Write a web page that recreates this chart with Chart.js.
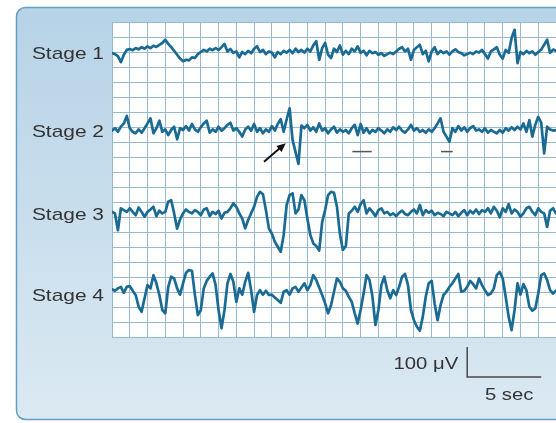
<!DOCTYPE html>
<html>
<head>
<meta charset="utf-8">
<title>EEG sleep stages</title>
<script src="https://cdn.jsdelivr.net/npm/chart.js@4.4.1/dist/chart.umd.min.js"></script>
<style>
  html, body { margin: 0; padding: 0; background: #fff; }
  #eegChart { display: block; }
</style>
</head>
<body>
<canvas id="eegChart" width="556" height="423"></canvas>
<script>
// traces, one sample every 0.2 s, in µV around each trace's own baseline
const sampleSec = 0.2;
const stageLabels = ['Stage 1', 'Stage 2', 'Stage 3', 'Stage 4'];

const stage1 = [
  -4,-7,-14,-34,-9,7,10,6,13,9,
  16,11,19,13,21,17,24,30,41,27,
  16,4,-9,-22,-31,-26,-28,-18,-20,-7,
  0,7,2,11,6,13,7,16,27,2,
  10,-3,2,-18,0,-7,4,-4,11,19,
  0,7,-7,2,-2,-18,0,-7,4,-2,
  7,-4,11,0,7,-2,11,2,22,36,
  -26,13,30,-9,-20,11,0,22,-9,4,
  -7,11,2,19,-3,4,-11,4,-4,0,
  -9,-4,-13,-7,-2,-7,2,11,16,2,
  11,-26,7,16,24,-7,4,-31,2,16,
  -7,4,-4,2,-9,2,9,0,-4,-11,
  -7,-2,-7,2,-2,7,-7,-22,2,9,
  16,-9,-22,7,-3,47,74,-37,0,-7,
  4,-4,2,-9,0,8,24,41,-3,8,4
];

const stage2 = [
  -2,6,-6,11,22,47,6,-6,-11,2,
  -9,6,22,39,-11,6,31,-6,2,-17,
  0,11,-31,6,0,13,-2,20,2,-6,
  9,22,31,-9,2,-6,11,-2,6,17,
  24,-2,6,-6,-22,2,11,-2,20,-6,
  6,-11,2,-6,13,-2,20,36,-6,35,
  72,-33,-73,-113,15,6,17,-2,9,-6,
  22,-2,6,-11,2,11,-9,2,-6,0,
  -11,6,17,-17,20,-9,6,-11,0,-6,
  6,-2,-11,2,-6,9,0,11,-2,-9,
  2,17,-2,6,-6,0,-9,2,-6,6,
  22,39,-6,-22,-39,6,-6,13,-2,9,
  -6,6,13,-2,2,-6,6,-9,0,-6,
  -11,0,-9,6,-2,9,0,11,2,22,
  -6,33,-22,17,44,25,-78,11,2,-2,0
];

const stage3 = [
  4,-1,-57,16,10,4,16,4,-7,19,
  4,-12,4,12,21,-10,8,-1,4,38,
  43,-1,-52,-21,-1,12,4,-1,10,4,
  -7,12,16,-10,4,-3,8,-18,1,4,
  16,32,21,-1,-18,-51,-23,-1,21,54,
  71,63,10,-51,-68,-95,-112,-129,-73,27,
  60,66,-1,12,60,43,-18,-73,-101,-110,
  -125,-30,10,60,71,68,21,-70,-123,-110,
  -1,8,21,4,30,43,-1,16,4,-10,
  10,16,-1,4,-7,-1,-10,1,8,-3,
  -7,4,12,-1,27,-7,10,1,8,-7,
  1,-3,-10,4,-1,-7,4,-10,1,10,
  -7,8,-1,12,-3,10,4,16,-1,21,
  8,-14,16,4,30,-1,12,4,-12,-1,
  16,21,4,-7,16,4,-1,-46,8,16,-1
];

const stage4 = [
  16,11,19,24,4,24,27,11,-3,-42,
  -59,-14,30,19,63,36,-3,-53,-64,24,
  58,52,19,-2,36,71,80,78,-2,-70,
  -53,19,44,58,69,30,-53,-114,-53,36,
  67,41,-26,19,-2,41,71,13,-59,-3,
  13,-2,11,-3,-2,-11,-20,-29,8,13,
  -2,19,24,8,22,36,13,30,63,47,
  22,-3,-31,-64,-37,8,52,41,19,11,
  -9,-26,-64,-98,-53,2,63,47,-9,-103,
  -53,30,58,13,-14,13,-3,24,58,67,
  30,-53,-87,-109,-122,-75,-9,36,44,-31,
  -87,-37,-3,8,24,36,52,67,8,11,
  24,44,33,19,52,30,13,-3,2,19,
  63,74,52,-9,-75,-120,-53,36,-2,33,
  13,-42,-55,-48,2,63,69,47,13,2,11
];

const traces = [stage1, stage2, stage3, stage4];

// where each trace sits on the µV axis (0..1050, 50 µV per grid row)
const baselines = [950, 690, 413, 143];

// marks on the Stage 2 trace (sec, µV relative to its baseline)
const arrowFrom = [10.27, -106];
const arrowTo = [11.74, -44];
const dashMarks = [[16.24, 17.55], [22.23, 23.02]];
const dashLevel = -72;

// calibration bar
const barSec = 5;
const barMicroV = 100;
const barStartSec = 24;
const barBottom = -133;
const barLabels = ['100 μV', '5 sec'];

const traceColor = '#1a6b94';
const gridColor = '#98b9cf';
const textColor = '#333';
const textStretch = 1.23;

function stretchedText(ctx, text, x, y, align) {
  ctx.save();
  ctx.translate(x, y);
  ctx.scale(textStretch, 1);
  ctx.textAlign = align;
  ctx.fillText(text, 0, 0);
  ctx.restore();
}

const panelPlugin = {
  id: 'panel',
  beforeDraw(chart) {
    const {ctx, chartArea: a, width, height} = chart;
    ctx.save();
    ctx.fillStyle = '#fff';
    ctx.fillRect(0, 0, width, height);
    const g = ctx.createLinearGradient(0, 7, 0, 420);
    g.addColorStop(0, '#b6d3e7');
    g.addColorStop(1, '#dbe9f2');
    ctx.beginPath();
    ctx.roundRect(16.5, 7.5, width + 30, 412, 9);
    ctx.fillStyle = g;
    ctx.fill();
    ctx.lineWidth = 1.5;
    ctx.strokeStyle = '#639fc4';
    ctx.stroke();
    ctx.fillStyle = '#fff';
    ctx.fillRect(a.left, a.top, a.right - a.left, a.bottom - a.top);
    ctx.restore();
  },
  afterDraw(chart) {
    const {ctx} = chart;
    const x = chart.scales.x, y = chart.scales.y;
    ctx.save();

    // stage names
    ctx.fillStyle = textColor;
    ctx.font = '17px "Liberation Sans", Arial, sans-serif';
    ctx.textBaseline = 'alphabetic';
    stageLabels.forEach((lab, i) => {
      stretchedText(ctx, lab, x.left - 8, y.getPixelForValue(baselines[i]) + 7, 'right');
    });

    // arrow pointing at the K complex
    const b2 = baselines[1];
    const x0 = x.getPixelForValue(arrowFrom[0]), y0 = y.getPixelForValue(b2 + arrowFrom[1]);
    const x1 = x.getPixelForValue(arrowTo[0]), y1 = y.getPixelForValue(b2 + arrowTo[1]);
    const ang = Math.atan2(y1 - y0, x1 - x0);
    ctx.strokeStyle = '#111';
    ctx.fillStyle = '#111';
    ctx.lineWidth = 2;
    ctx.beginPath();
    ctx.moveTo(x0, y0);
    ctx.lineTo(x1 - 6 * Math.cos(ang), y1 - 6 * Math.sin(ang));
    ctx.stroke();
    ctx.beginPath();
    ctx.moveTo(x1, y1);
    ctx.lineTo(x1 - 9 * Math.cos(ang) + 4 * Math.sin(ang), y1 - 9 * Math.sin(ang) - 4 * Math.cos(ang));
    ctx.lineTo(x1 - 9 * Math.cos(ang) - 4 * Math.sin(ang), y1 - 9 * Math.sin(ang) + 4 * Math.cos(ang));
    ctx.closePath();
    ctx.fill();

    // spindle markers
    ctx.strokeStyle = '#555';
    ctx.lineWidth = 1.5;
    dashMarks.forEach(d => {
      const yy = y.getPixelForValue(b2 + dashLevel);
      ctx.beginPath();
      ctx.moveTo(x.getPixelForValue(d[0]), yy);
      ctx.lineTo(x.getPixelForValue(d[1]), yy);
      ctx.stroke();
    });

    // calibration bar
    const bx = x.getPixelForValue(barStartSec);
    const bx2 = x.getPixelForValue(barStartSec + barSec);
    const byTop = y.getPixelForValue(barBottom + barMicroV);
    const byBot = y.getPixelForValue(barBottom);
    ctx.strokeStyle = '#4a4a4a';
    ctx.lineWidth = 1.5;
    ctx.beginPath();
    ctx.moveTo(bx, byTop);
    ctx.lineTo(bx, byBot);
    ctx.lineTo(bx2, byBot);
    ctx.stroke();
    ctx.fillStyle = textColor;
    ctx.font = '16.5px "Liberation Sans", Arial, sans-serif';
    stretchedText(ctx, barLabels[0], bx - 9, byTop + 22.5, 'right');
    stretchedText(ctx, barLabels[1], (bx + bx2) / 2 + 5, byBot + 23, 'center');
    ctx.restore();
  }
};

const datasets = traces.map((vals, i) => ({
  label: stageLabels[i],
  data: vals.map((v, k) => ({x: k * sampleSec, y: baselines[i] + v})),
  borderColor: traceColor,
  borderWidth: 2.7,
  borderJoinStyle: 'round',
  borderCapStyle: 'round',
  pointRadius: 0,
  tension: 0,
  fill: false
}));

new Chart(document.getElementById('eegChart').getContext('2d'), {
  type: 'line',
  data: {datasets},
  options: {
    responsive: false,
    animation: false,
    events: [],
    layout: {padding: {left: 112, top: 22, right: 0, bottom: 86}},
    plugins: {legend: {display: false}, tooltip: {enabled: false}},
    scales: {
      x: {
        type: 'linear', min: 0, max: 30,
        ticks: {display: false, stepSize: 1.2},
        grid: {color: gridColor, lineWidth: 1, drawTicks: false},
        border: {display: false},
        afterFit(s) { s.height = 0; }
      },
      y: {
        type: 'linear', min: 0, max: 1050,
        ticks: {display: false, stepSize: 50},
        grid: {color: gridColor, lineWidth: 1, drawTicks: false},
        border: {display: false},
        afterFit(s) { s.width = 0; }
      }
    }
  },
  plugins: [panelPlugin]
});
</script>
</body>
</html>
